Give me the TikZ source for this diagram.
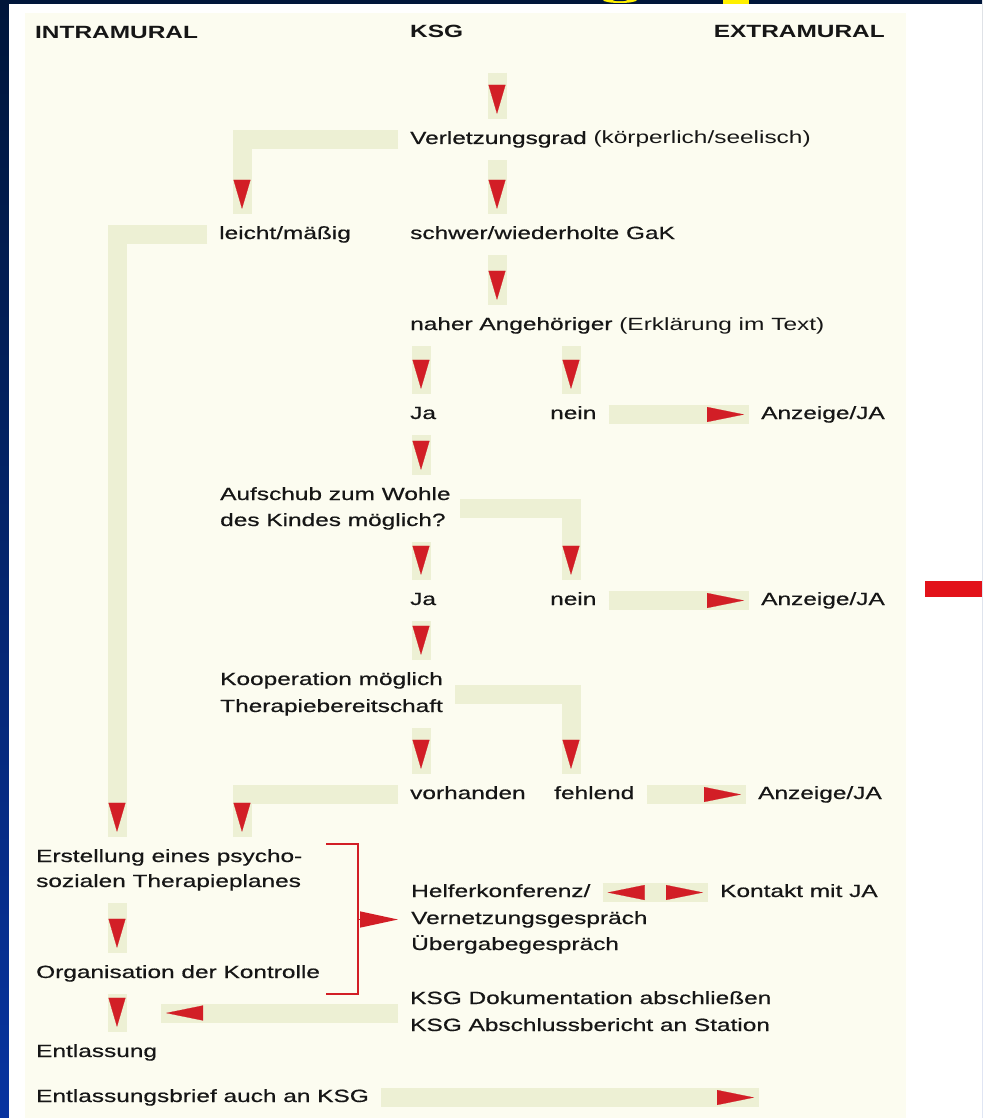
\documentclass[tikz,border=0pt]{standalone}
\usepackage{fontspec}
\setmainfont{Liberation Sans}[FakeStretch=1.38, UprightFeatures={FakeBold=0.6}]
\newfontfamily\ksglight{Liberation Sans}[FakeStretch=1.38]
\usepackage{tikz}
\usetikzlibrary{arrows.meta,calc}
\definecolor{ksgred}{RGB}{210,30,38}
\definecolor{ksgband}{RGB}{237,240,212}
\definecolor{ksgpaper}{RGB}{252,252,240}
\definecolor{ksgtext}{RGB}{22,22,22}
\definecolor{slidetop}{RGB}{0,22,58}
\definecolor{slidebot}{RGB}{8,52,160}
\definecolor{slidered}{RGB}{226,18,26}
\definecolor{slideyellow}{RGB}{255,240,0}
\newcommand{\ksgfont}{\fontsize{17.7pt}{26pt}\selectfont}

\begin{document}
\begin{tikzpicture}[x=1pt, y=-1pt,
    lbl/.style={anchor=base west, inner sep=0pt, text height=13pt, text depth=4pt, text=ksgtext, font=\ksgfont},
    hdr/.style={lbl, font=\ksgfont\bfseries},
    band/.style={draw=ksgband, line width=19pt, shorten <=12pt, shorten >=12pt},
    vband/.style={band, postaction={draw=ksgband, line width=0.2pt, shorten >=17pt, -{Triangle[length=29pt, width=17pt, color=ksgred]}}},
    hband/.style={band, postaction={draw=ksgband, line width=0.2pt, shorten >=17pt, -{Triangle[length=37pt, width=15pt, color=ksgred]}}},
    dband/.style={band, postaction={draw=ksgband, line width=0.2pt, shorten <=17pt, shorten >=17pt, {Triangle[length=37pt, width=15pt, color=ksgred]}-{Triangle[length=37pt, width=15pt, color=ksgred]}}},
    bracket/.style={draw=ksgred, line width=1.4pt},
]
    \useasboundingbox (0,0) rectangle (982,1118);

    % Slide background
    \shade[top color=slidetop, bottom color=slidebot] (0,0) rectangle (982,1118);
    \fill[white] (9,4) rectangle (982,1118);
    \fill[ksgpaper] (25,13) rectangle (906,1118);
    \fill[slidered] (925,581) rectangle (982,597);
    \begin{scope}
        \clip (0,0) rectangle (982,4);
        \fill[slideyellow] (620,0) ellipse [x radius=17, y radius=3];
        \fill[slidetop] (620,0) ellipse [x radius=7, y radius=1.2];
        \fill[slideyellow] (723,0) rectangle (749,4);
    \end{scope}

    % Column heads
    \node[hdr] (hintra) at (35,39) {INTRAMURAL};
    \node[hdr] (hksg) at (410,38) {KSG};
    \node[hdr, anchor=base east] (hextra) at (885,38) {EXTRAMURAL};

    % Decisions
    \node[lbl] (verl) at (410,144) {Verletzungsgrad {\ksglight(körperlich/seelisch)}};
    \node[lbl] (leicht) at (219,239) {leicht/mäßig};
    \node[lbl] (schwer) at (410,239) {schwer/wiederholte GaK};
    \node[lbl] (naher) at (410,330) {naher Angehöriger {\ksglight(Erklärung im Text)}};
    \node[lbl] (ja1) at (410,419) {Ja};
    \node[lbl] (nein1) at (550,419) {nein};
    \node[lbl] (anz1) at (761,419) {Anzeige/JA};
    \node[lbl] (aufs1) at (220,500) {Aufschub zum Wohle};
    \node[lbl] (aufs2) at (220,526) {des Kindes möglich?};
    \node[lbl] (ja2) at (410,605) {Ja};
    \node[lbl] (nein2) at (550,605) {nein};
    \node[lbl] (anz2) at (761,605) {Anzeige/JA};
    \node[lbl] (koop1) at (220,685) {Kooperation möglich};
    \node[lbl] (koop2) at (220,712) {Therapiebereitschaft};
    \node[lbl] (vorh) at (410,799) {vorhanden};
    \node[lbl] (fehl) at (554,799) {fehlend};
    \node[lbl] (anz3) at (758,799) {Anzeige/JA};

    % Measures
    \node[lbl] (erst1) at (36,862) {Erstellung eines psycho-};
    \node[lbl] (erst2) at (36,887) {sozialen Therapieplanes};
    \node[lbl] (orga) at (36,978) {Organisation der Kontrolle};
    \node[lbl] (entl) at (36,1057) {Entlassung};
    \node[lbl] (brief) at (36,1102) {Entlassungsbrief auch an KSG};
    \node[lbl] (helf) at (411,897) {Helferkonferenz/};
    \node[lbl] (kont) at (720,897) {Kontakt mit JA};
    \node[lbl] (vern) at (411,924) {Vernetzungsgespräch};
    \node[lbl] (uebg) at (411,950) {Übergabegespräch};
    \node[lbl] (doku) at (410,1004) {KSG Dokumentation abschließen};
    \node[lbl] (absch) at (410,1031) {KSG Abschlussbericht an Station};

    % Band columns and free ends
    \coordinate (colI) at (117,0);
    \coordinate (colL) at (242,0);
    \coordinate (colJa) at (421,0);
    \coordinate (colK) at (497,0);
    \coordinate (colN) at (571,0);
    \coordinate (start) at (497,61);
    \coordinate (docend) at (149,1013);
    \coordinate (briefend) at (771,1097.5);
    \coordinate (brk) at (358,919.5);

    % Downward bands
    \draw[vband] (start) -- (verl.north -| colK);
    \foreach \a/\b/\c in {verl/schwer/colK, schwer/naher/colK, naher/ja1/colJa, naher/nein1/colN,
        ja1/aufs1/colJa, aufs2/ja2/colJa, ja2/koop1/colJa, koop2/vorh/colJa, erst2/orga/colI, orga/entl/colI}
        \draw[vband] (\a.south -| \c) -- (\b.north -| \c);

    % Bent bands
    \draw[vband] (verl.west) -| (leicht.north -| colL);
    \draw[vband] (leicht.west) -| (erst1.north -| colI);
    \draw[vband] (vorh.west) -| (erst1.north -| colL);
    \draw[vband] ($(aufs1.east)!0.5!(aufs2.east)$) -| (nein2.north -| colN);
    \draw[vband] ($(koop1.east)!0.5!(koop2.east)$) -| (fehl.north -| colN);

    % Sideways bands
    \foreach \a/\b in {nein1/anz1, nein2/anz2, fehl/anz3}
        \draw[hband] (\a) -- (\b);
    \draw[dband] (helf) -- (kont);
    \draw[hband] ($(doku.west)!0.5!(absch.west)$) -- (docend);
    \draw[hband] (brief) -- (briefend);

    % Bracket
    \draw[bracket] (326,844) -| (brk) |- (326,994);
    \draw[bracket, shorten >=13pt, -{Triangle[length=38pt, width=16pt]}] (brk) -- (vern.west);
\end{tikzpicture}
\end{document}
